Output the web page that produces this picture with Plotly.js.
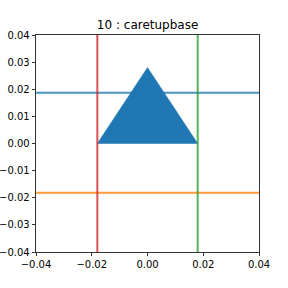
<!DOCTYPE html>
<html><head><meta charset="utf-8">
<script src="https://cdn.plot.ly/plotly-3.0.1.min.js"></script>
<style>html,body{margin:0;padding:0;background:#fff}</style>
</head><body><div id="c" style="width:288px;height:288px"></div>
<script>
const titleText = "10 : caretupbase";
const triX = [-0.018, 0.018, 0.0, -0.018];
const triY = [0.0, 0.0, 0.028, 0.0];
const hLineY = [0.0187, -0.0182];      // blue, orange
const vLineX = [-0.018, 0.018];        // red, green
const axisRange = [-0.04, 0.04];
const xTicks = [-0.04, -0.02, 0.00, 0.02, 0.04];
const yTicks = [-0.04, -0.03, -0.02, -0.01, 0.00, 0.01, 0.02, 0.03, 0.04];

const traces = [
  {x: triX, y: triY, mode: 'lines', fill: 'toself', fillcolor: '#1f77b4',
   line: {color: '#1f77b4', width: 0.5}, hoverinfo: 'skip'},
  {x: axisRange, y: [hLineY[0], hLineY[0]], mode: 'lines', opacity: 0.8, line: {color: '#1f77b4', width: 2}},
  {x: axisRange, y: [hLineY[1], hLineY[1]], mode: 'lines', opacity: 0.8, line: {color: '#ff7f0e', width: 2}},
  {x: [vLineX[0], vLineX[0]], y: axisRange, mode: 'lines', opacity: 0.8, line: {color: '#d62728', width: 2}},
  {x: [vLineX[1], vLineX[1]], y: axisRange, mode: 'lines', opacity: 0.8, line: {color: '#2ca02c', width: 2}}
];
const fmt = v => (v < 0 ? '\u2212' : '') + Math.abs(v).toFixed(2);
const axisCommon = {
  range: axisRange, showgrid: false, zeroline: false, showline: true, mirror: true,
  linecolor: '#000', linewidth: 0.8, ticks: 'outside', ticklen: 3.5, tickwidth: 0.8,
  tickcolor: '#000', tickfont: {family: 'DejaVu Sans', size: 10, color: '#000'}, tickmode: 'array'
};
const layout = {
  width: 288, height: 288, showlegend: false,
  margin: {l: 36, r: 29, t: 35, b: 36},
  paper_bgcolor: '#fff', plot_bgcolor: '#fff',
  title: {text: titleText, font: {family: 'DejaVu Sans', size: 12, color: '#000'},
          x: 0.5125, xanchor: 'center', y: 1 - 25/288, yanchor: 'middle', yref: 'container'},
  xaxis: Object.assign({}, axisCommon, {tickvals: xTicks, ticktext: xTicks.map(fmt)}),
  yaxis: Object.assign({}, axisCommon, {tickvals: yTicks, ticktext: yTicks.map(fmt)})
};
Plotly.newPlot('c', traces, layout, {staticPlot: true, displayModeBar: false});
</script></body></html>
